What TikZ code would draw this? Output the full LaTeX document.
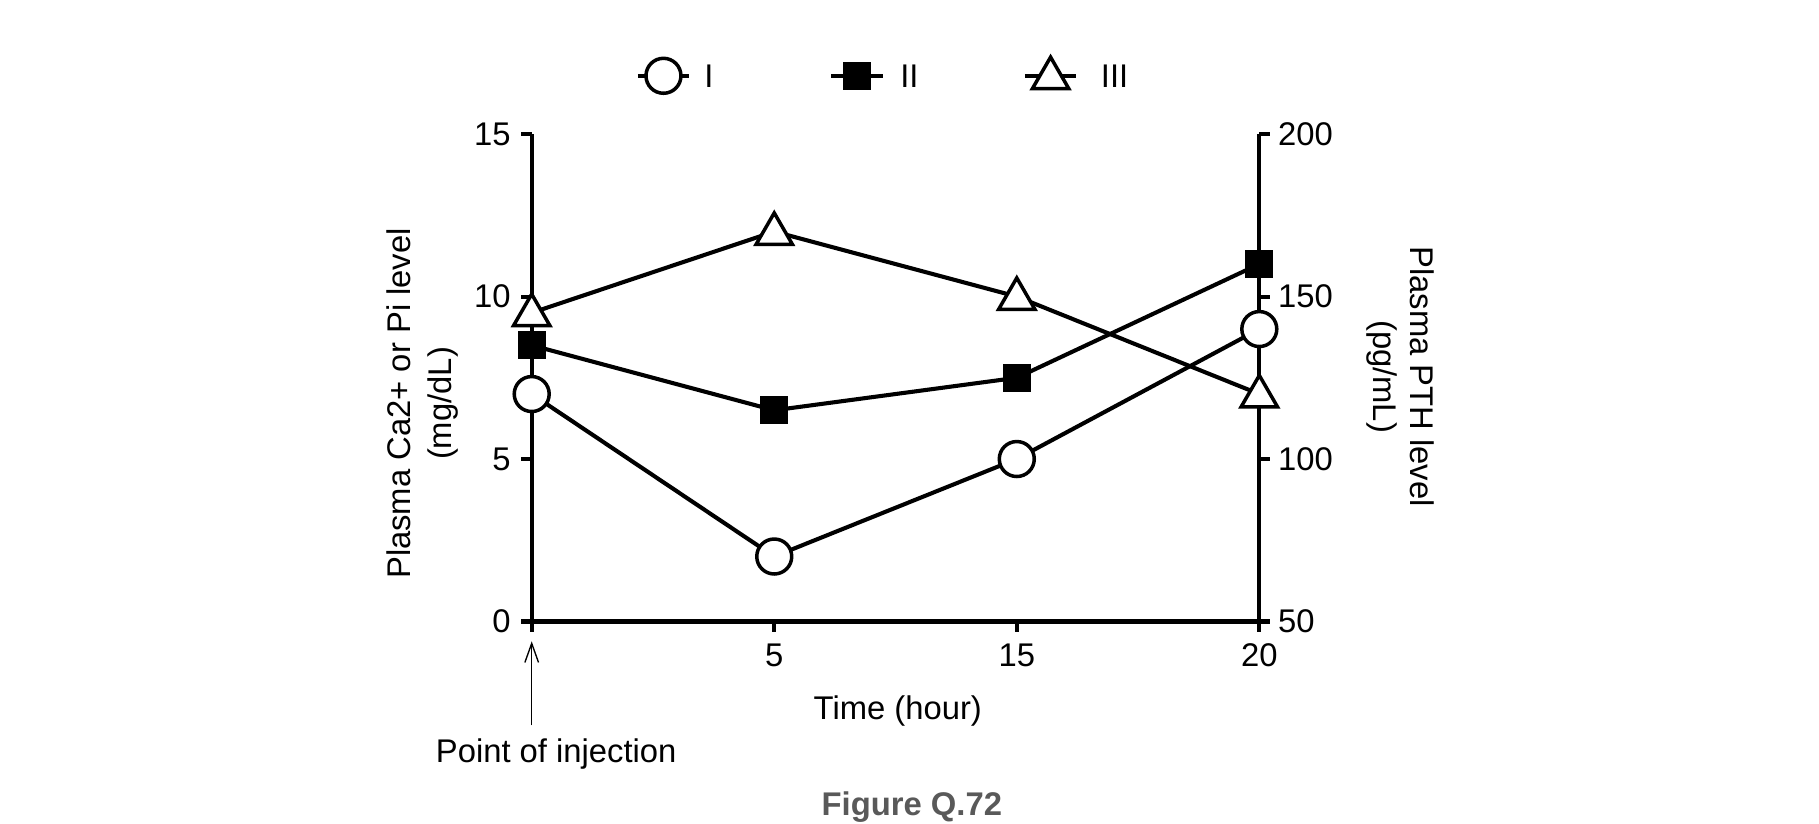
\documentclass[tikz,border=0pt]{standalone}
\usepackage{fontspec}
\setmainfont{Liberation Sans}
\usetikzlibrary{shapes.geometric,arrows.meta}
\begin{document}
\begin{tikzpicture}[x=0.03cm,y=-0.03cm,
  ln/.style={line width=3.5*0.03cm},
  ax/.style={line width=3.5*0.03cm},
  mcirc/.style={circle,draw,fill=white,line width=3*0.03cm,minimum size=30*0.03cm,inner sep=0pt},
  msq/.style={rectangle,fill=black,minimum size=24*0.03cm,inner sep=0pt},
  mtri/.style={regular polygon,regular polygon sides=3,draw,fill=white,line width=3*0.03cm,minimum size=36*0.03cm,inner sep=0pt},
  lbl/.style={font=\fontsize{24}{28}\selectfont},
  every node/.style={lbl}]
\useasboundingbox (0,0) rectangle (1560,706);
% axes
\draw[ax] (456,115) -- (456,533) -- (1080,533) -- (1080,115);
\foreach \v/\t in {0/0,5/5,10/10,15/15}{
  \draw[ax] (456,533-\v*27.867) -- (447,533-\v*27.867);
  \node[anchor=east] (yl\v) at (442,533-\v*27.867) {\t};}
\foreach \v/\t in {0/50,5/100,10/150,15/200}{
  \draw[ax] (1080,533-\v*27.867) -- (1089,533-\v*27.867);
  \node[anchor=west] (yr\v) at (1092,533-\v*27.867) {\t};}
\foreach \x/\t in {456/0,664/5,872/15,1080/20}{
  \draw[ax] (\x,533) -- (\x,542);}
\foreach \x/\t in {664/5,872/15,1080/20}{
  \node[anchor=north] (xl\t) at (\x,548) {\t};}
% axis labels
\node[rotate=90] (ylab1) at (342,346) {Plasma Ca2+ or Pi level};
\node[rotate=90] (ylab2) at (380,346) {(mg/dL)};
\node[rotate=-90] (rlab1) at (1220,323) {Plasma PTH level};
\node[rotate=-90] (rlab2) at (1185,323) {(pg/mL)};
\node (xlab) at (770,610) {Time (hour)};
\node (inj) at (477,647) {Point of injection};
\coordinate (arrbot) at (456,622);
\coordinate (arrtop) at (456,550);
\draw[line width=1pt,-{Straight Barb[length=14pt,width=10pt]}] (arrbot) -- (arrtop);
\node[font=\fontsize{24}{28}\selectfont\bfseries,text=black!65] (fig) at (782,692) {Figure Q.72};
% data coordinates
\foreach \n/\x in {1/456,2/664,3/872,4/1080}{}
\coordinate (c1) at (456,{533-7*27.867});
\coordinate (c2) at (664,{533-2*27.867});
\coordinate (c3) at (872,{533-5*27.867});
\coordinate (c4) at (1080,{533-9*27.867});
\coordinate (s1) at (456,{533-8.5*27.867});
\coordinate (s2) at (664,{533-6.5*27.867});
\coordinate (s3) at (872,{533-7.5*27.867});
\coordinate (s4) at (1080,{533-11*27.867});
\coordinate (t1) at (456,{533-9.5*27.867});
\coordinate (t2) at (664,{533-12*27.867});
\coordinate (t3) at (872,{533-10*27.867});
\coordinate (t4) at (1080,{533-7*27.867});
\draw[ln,line join=round] (c1) -- (c2) -- (c3) -- (c4);
\draw[ln,line join=round] (s1) -- (s2) -- (s3) -- (s4);
\draw[ln,line join=round] (t1) -- (t2) -- (t3) -- (t4);
\foreach \i in {1,2,3,4}{
  \node[mcirc] (mc\i) at (c\i) {};
  \node[msq] (ms\i) at (s\i) {};
  \node[mtri,yshift=-2*0.03cm] (mt\i) at (t\i) {};}
% legend
\coordinate (la1) at (547,65); \coordinate (la2) at (591,65);
\coordinate (lb1) at (713,65); \coordinate (lb2) at (757,65);
\coordinate (lc1) at (879,65); \coordinate (lc2) at (923,65);
\draw[ln] (la1) -- (la2);
\draw[ln] (lb1) -- (lb2);
\draw[ln] (lc1) -- (lc2);
\node[mcirc] (lgc) at (569,65) {};
\node[msq] (lgs) at (735,65) {};
\node[mtri,yshift=-2*0.03cm] (lgt) at (901,65) {};
\node[anchor=west] (lI) at (600,65) {I};
\node[anchor=west] (lII) at (768,65) {II};
\node[anchor=west] (lIII) at (940,65) {III};
\end{tikzpicture}
\end{document}
